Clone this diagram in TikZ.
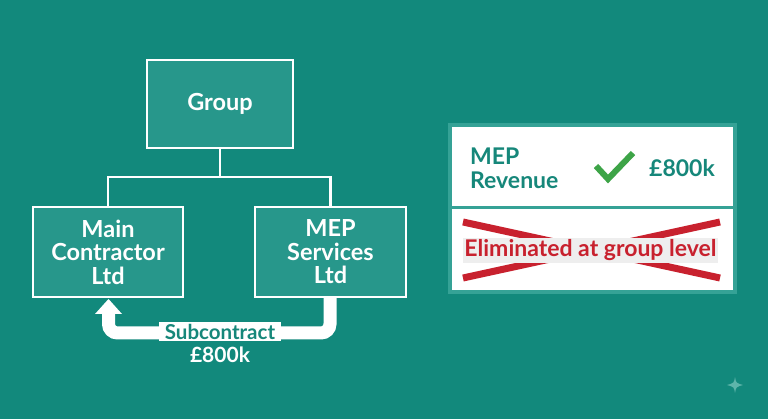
\documentclass[tikz,border=0pt]{standalone}
\usepackage{fontspec}
\setmainfont{Lato}[UprightFont=* Bold]
\definecolor{bg}{HTML}{12897C}
\definecolor{boxfill}{HTML}{27978B}
\definecolor{tealtext}{HTML}{16877A}
\definecolor{panelborder}{HTML}{35A296}
\definecolor{checkgreen}{HTML}{3DA447}
\definecolor{redx}{HTML}{C8212E}
\definecolor{graybg}{HTML}{EEEEEE}
\definecolor{sparkle}{HTML}{5DB5AA}
\begin{document}
\begin{tikzpicture}[x=1pt,y=-1pt,
  orgbox/.style={draw=white,line width=2.5pt,fill=boxfill,text=white,align=center,
    font=\fontsize{23.5}{23.5}\selectfont,inner sep=0pt},
  conn/.style={draw=white,line width=2.5pt},
  bigarrow/.style={draw=white,line width=13pt,rounded corners=9pt},
  lbl/.style={fill=white,text=tealtext,font=\fontsize{20.5}{22}\selectfont,inner xsep=6pt,inner ysep=2pt}]
\fill[bg] (0,0) rectangle (768,419);
\useasboundingbox (0,0) rectangle (768,419);
% org boxes
\node[orgbox,minimum width=146pt,minimum height=88pt] (group) at (220,104) {Group};
\node[orgbox,minimum width=150pt,minimum height=90pt] (main) at (108,252) {Main\\Contractor\\Ltd};
\node[orgbox,minimum width=151pt,minimum height=90pt] (mep) at (330.5,252) {MEP\\Services\\Ltd};
\coordinate (hub) at (220,177);
\draw[conn] (group.south) -- (hub);
\draw[conn] (main.north) |- (hub) -| (mep.north);
% subcontract arrow
\coordinate (ar) at (330,333);
\coordinate (al) at (108.5,333);
\coordinate (tip) at (108.5,299);
\draw[bigarrow] (mep.south -| ar) -- (ar) -- (al) -- ([yshift=-14pt]tip);
\fill[white] (tip) -- (95,314) -- (122,314) -- cycle;
\node[lbl] (sub) at (220,331.5) {Subcontract};
\node[text=white,font=\fontsize{21}{22}\selectfont] (amt) at (220,355) {£800k};
% right panel
\node[draw=panelborder,line width=3.5pt,fill=white,minimum width=285pt,minimum height=167pt,inner sep=0pt] (panel) at (592.5,208.5) {};
\coordinate (divl) at (450,208);
\coordinate (divr) at (735,208);
\draw[panelborder,line width=3pt] (divl) -- (divr);
\node[text=tealtext,align=left,anchor=west,font=\fontsize{23}{24}\selectfont,inner sep=0pt] (rev) at (470,168.5) {MEP\\Revenue};
\draw[checkgreen,line width=6pt] (596,166) -- (608,179) -- (633,153);
\node[text=tealtext,anchor=west,font=\fontsize{23}{24}\selectfont,inner sep=0pt] (amt2) at (649,168) {£800k};
% eliminated
\coordinate (x1) at (463,222);
\coordinate (x2) at (720,278);
\coordinate (x3) at (463,278);
\coordinate (x4) at (720,222);
\draw[redx,line width=7pt] (x1) -- (x2);
\draw[redx,line width=7pt] (x3) -- (x4);
\node[fill=graybg,text=redx,minimum width=255pt,minimum height=25pt,inner sep=0pt,font=\fontsize{23}{24}\selectfont] (elim) at (590.5,250.5) {Eliminated at group level};
% sparkle
\fill[sparkle] (735,377) .. controls (736,383) .. (743,385) .. controls (736,387) .. (735,393) .. controls (734,387) .. (727,385) .. controls (734,383) .. (735,377) -- cycle;
\end{tikzpicture}
\end{document}
